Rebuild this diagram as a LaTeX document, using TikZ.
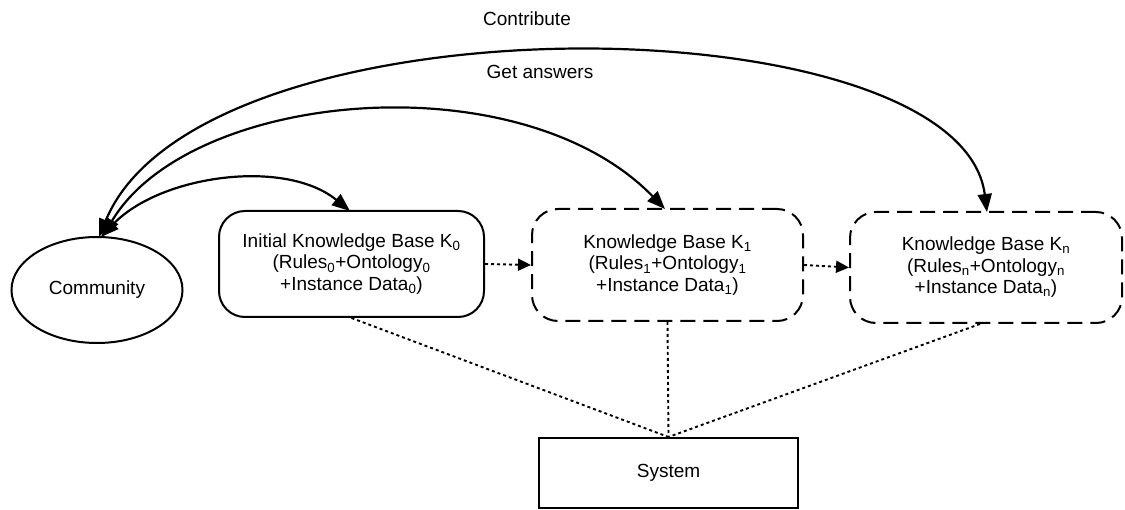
\documentclass[tikz,border=0pt]{standalone}
\usepackage{fontspec}
\setmainfont{Liberation Sans}
\usetikzlibrary{shapes.geometric,arrows.meta}
\begin{document}
\begin{tikzpicture}[x=1pt,y=-1pt,
  every node/.style={font=\fontsize{19}{21.5}\selectfont},
  kbbox/.style={draw,line width=2pt,rounded corners=26pt,align=center,inner sep=0pt},
  kbdash/.style={kbbox,dash pattern=on 15pt off 8pt},
  both/.style={line width=2.2pt,{Triangle[length=18pt,width=14pt]}-{Triangle[length=18pt,width=14pt]}},
  dots/.style={line width=1.9pt,dash pattern=on 3pt off 3pt},
  dotarrow/.style={dots,-{Triangle[length=13pt,width=12pt]}},
  lbl/.style={inner sep=0pt}]
\useasboundingbox (0,0) rectangle (1125,510);
\node[draw,ellipse,line width=2pt,minimum width=171pt,minimum height=106pt,inner sep=0pt] (comm) at (97,290) {Community};
\node[kbbox,minimum width=265pt,minimum height=106pt] (kb0) at (351.5,264)
  {Initial Knowledge Base K\textsubscript{0}\\(Rules\textsubscript{0}+Ontology\textsubscript{0}\\+Instance Data\textsubscript{0})};
\node[kbdash,minimum width=271pt,minimum height=112pt] (kb1) at (667.5,265)
  {Knowledge Base K\textsubscript{1}\\(Rules\textsubscript{1}+Ontology\textsubscript{1}\\+Instance Data\textsubscript{1})};
\node[kbdash,minimum width=272pt,minimum height=111pt] (kbn) at (986,267.5)
  {Knowledge Base K\textsubscript{n}\\(Rules\textsubscript{n}+Ontology\textsubscript{n}\\+Instance Data\textsubscript{n})};
\node[draw,line width=2pt,minimum width=259pt,minimum height=70pt,inner sep=0pt] (sys) at (668.5,473) {System};
\node[lbl] (contrib) at (527,19) {Contribute};
\node[lbl] (answers) at (540,72) {Get answers};
\coordinate (c0) at (101,237);
\coordinate (c1) at (103,236);
\coordinate (c2) at (99,237);
\coordinate (t0) at (350,211);
\coordinate (t1) at (665,209);
\coordinate (tn) at (987,212);
\draw[both] (c0) .. controls (160,175) and (285,158) .. (t0);
\draw[both] (c1) .. controls (190,90) and (520,60) .. (t1);
\draw[both] (c2) .. controls (200,-9) and (960,0) .. (tn);
\draw[dotarrow] (kb0.east) -- (kb1.west);
\draw[dotarrow] (kb1.east) -- (kbn.west);
\draw[dots] (kb0.south) -- (sys.north);
\draw[dots] (kb1.south) -- (sys.north);
\draw[dots] ([xshift=-6pt]kbn.south) -- (sys.north);
\end{tikzpicture}
\end{document}
